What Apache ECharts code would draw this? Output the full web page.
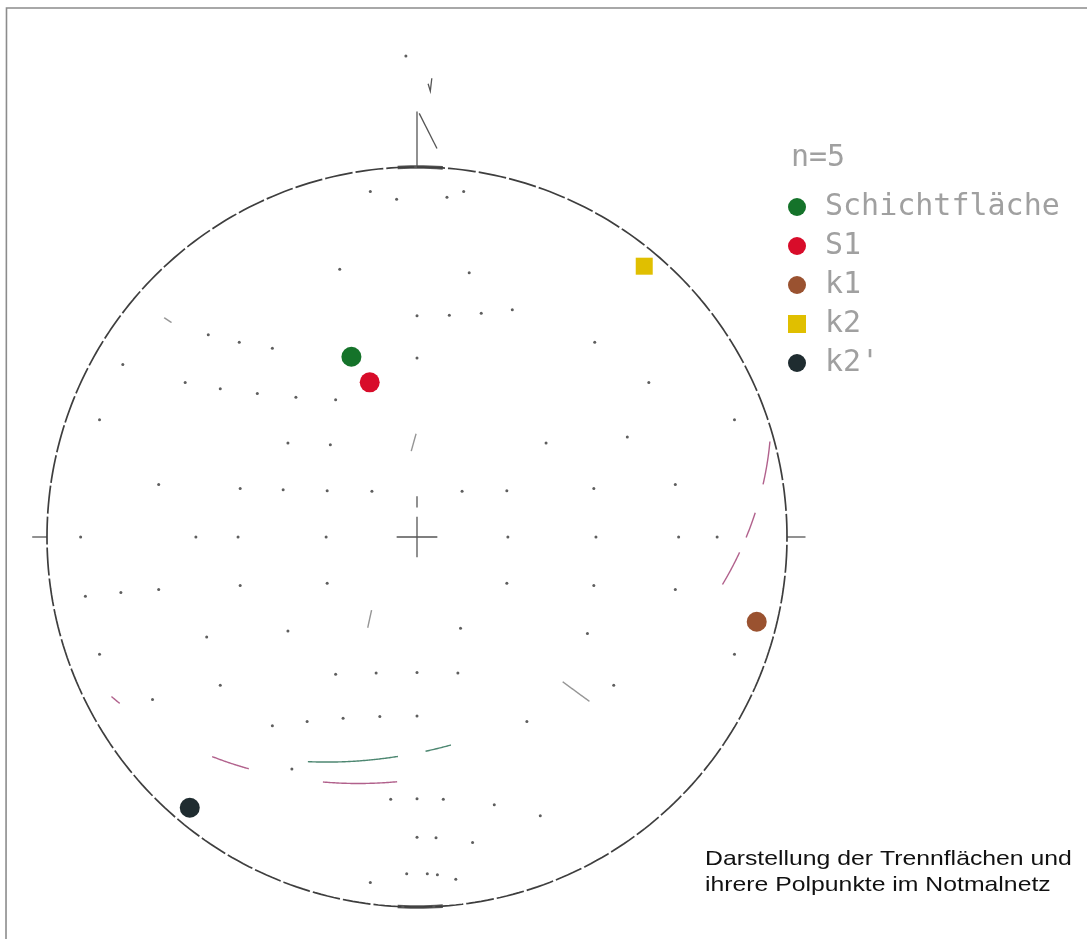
<!DOCTYPE html>
<html>
<head>
<meta charset="utf-8">
<script src="https://cdn.jsdelivr.net/npm/echarts@6/dist/echarts.min.js"></script>
<style>
  html, body { margin: 0; padding: 0; background: #ffffff; }
  #chart { width: 1087px; height: 939px; }
</style>
</head>
<body>
<div id="chart"></div>
<script>
// Poles of the discontinuity planes, lower hemisphere (trend / plunge in degrees)
const poleNames   = ['Schichtfläche', 'S1', 'k1', 'k2', "k2'"];
const poleTrend   = [340, 343, 104, 40, 220];
const polePlunge  = [47, 54, 6, 5, 5];
const poleColors  = ['#15732a', '#d80c2a', '#9a5230', '#e0bf00', '#1f2c30'];
const poleSymbols = ['circle', 'circle', 'circle', 'rect', 'circle'];
const sampleCount = 5;

// Printed stretches of each plane's great circle, as rake ranges (deg from strike)
const traceRakes = [
  [[97.9, 103.2], [108.8, 127.2]],
  [[2.3, 10.3], [15.8, 20.9], [23.9, 30.9], [107.8, 122.5], [137, 144.5], [165, 167]],
  [[68, 72], [108, 112]],
  [[36, 44]],
  [[10.5, 13]]
];
const traceColors = ['#3a7a62', '#a8507f', '#8a8a8a', '#8a8a8a', '#8a8a8a'];

// Printed knots of the Schmidt net (longitude, latitude in degrees, 10 degree grid)
const netKnots = [
  [-50, 80], [-20, 80], [30, 80], [50, 80],
  [-30, 60], [20, 60],
  [0, 50], [10, 50], [20, 50], [30, 50],
  [-60, 40], [-50, 40], [-40, 40], [0, 40], [50, 40],
  [-80, 30], [-60, 30], [-50, 30], [-40, 30], [-30, 30], [-20, 30], [60, 30],
  [-80, 20], [-30, 20], [-20, 20], [30, 20], [50, 20], [80, 20],
  [-60, 10], [-40, 10], [-30, 10], [-20, 10], [-10, 10], [10, 10], [20, 10], [40, 10], [60, 10],
  [-80, 0], [-50, 0], [-40, 0], [-20, 0], [20, 0], [40, 0], [60, 0], [70, 0],
  [-80, -10], [-70, -10], [-60, -10], [-40, -10], [-20, -10], [20, -10], [40, -10], [60, -10],
  [-80, -20], [-50, -20], [-30, -20], [10, -20], [40, -20], [80, -20],
  [-70, -30], [-50, -30], [-20, -30], [-10, -30], [0, -30], [10, -30], [50, -30],
  [-40, -40], [-30, -40], [-20, -40], [-10, -40], [0, -40], [30, -40],
  [-40, -50],
  [-10, -60], [0, -60], [10, -60], [30, -60], [50, -60],
  [0, -70], [10, -70], [30, -70],
  [-50, -80], [-10, -80], [10, -80], [20, -80], [40, -80]
];

const captionLines = ['Darstellung der Trennflächen und', 'ihrere Polpunkte im Notmalnetz'];

// ---- layout of the net on the page ----
const W = 1087, H = 939, CX = 417, CY = 537, R = 370;
const xMin = -CX / R, xMax = (W - CX) / R, yMax = CY / R, yMin = -(H - CY) / R;

const rad = d => d * Math.PI / 180;

// Lambert equal-area projection of a lower-hemisphere unit vector (east, north, down)
function projectVec(e, n, down) {
  const h = Math.hypot(e, n);
  const r = Math.sqrt(Math.max(0, 1 - down));
  return h < 1e-12 ? [0, 0] : [r * e / h, r * n / h];
}
function projectLine(trend, plunge) {
  const t = rad(trend), p = rad(plunge);
  return projectVec(Math.cos(p) * Math.sin(t), Math.cos(p) * Math.cos(t), Math.sin(p));
}
// Point on a plane's great circle at a given rake (0 = strike, 90 = dip line)
function planePoint(dipDir, dip, rake) {
  const a = rad(dipDir), d = rad(dip), t = rad(rake);
  const sE = Math.sin(a - Math.PI / 2), sN = Math.cos(a - Math.PI / 2);
  const dE = Math.cos(d) * Math.sin(a), dN = Math.cos(d) * Math.cos(a), dD = Math.sin(d);
  return projectVec(sE * Math.cos(t) + dE * Math.sin(t),
                    sN * Math.cos(t) + dN * Math.sin(t),
                    dD * Math.sin(t));
}
// Schmidt net knot in the equatorial aspect
function netKnot(lon, lat) {
  const c = Math.cos(rad(lat)) * Math.cos(rad(lon));
  const k = 1 / Math.sqrt(1 + c);
  return [Math.cos(rad(lat)) * Math.sin(rad(lon)) * k, Math.sin(rad(lat)) * k];
}
const arcPoints = (a0, a1) => {
  const pts = [];
  for (let a = a0; a <= a1; a += 1) pts.push([Math.sin(rad(a)), Math.cos(rad(a))]);
  return pts;
};

// primitive circle
const primitive = arcPoints(0, 360);
const netDots = netKnots.map(([lon, lat]) => netKnot(lon, lat));

// great circle fragments of the planes belonging to each pole
const traceData = [];
poleNames.forEach((name, i) => {
  const dipDir = (poleTrend[i] + 180) % 360;
  const dip = 90 - polePlunge[i];
  traceRakes[i].forEach(([r0, r1]) => {
    const coords = [];
    for (let r = r0; r <= r1 + 1e-9; r += 0.25) coords.push(planePoint(dipDir, dip, r));
    traceData.push({ coords, lineStyle: { color: traceColors[i] } });
  });
});

// cardinal ticks, north mark and centre cross
const tick = (ax, ay, r0, r1) => ({ coords: [[ax * r0, ay * r0], [ax * r1, ay * r1]] });
const arm = 0.055;
const markData = [
  tick(1, 0, 1, 1.05),
  tick(-1, 0, 1, 1.04),
  tick(0, 1, 1, 1.15),
  { coords: [[0.006, 1.145], [0.054, 1.05]] },
  { coords: [[0.03, 1.225], [0.036, 1.205], [0.04, 1.24]] },
  { coords: [[-arm, 0], [arm, 0]] },
  { coords: [[0, -arm], [0, arm]] },
  { coords: [[0, 0.08], [0, 0.11]] }
];
// heavier strokes of the circle at north and south
const heavyArcs = [
  { coords: arcPoints(-3, 4) },
  { coords: arcPoints(176, 183) }
];

const series = [
  {
    type: 'line', data: primitive, showSymbol: false, silent: true, z: 2,
    lineStyle: { color: '#3e3e3e', width: 1.7, type: [28, 3] }
  },
  {
    type: 'lines', coordinateSystem: 'cartesian2d', polyline: true, silent: true, z: 2,
    data: heavyArcs, lineStyle: { color: '#3a3a3a', width: 3.6, opacity: 0.85 }
  },
  {
    type: 'lines', coordinateSystem: 'cartesian2d', polyline: true, silent: true, z: 2,
    data: markData, lineStyle: { color: '#555555', width: 1.3, opacity: 1 }
  },
  {
    type: 'lines', coordinateSystem: 'cartesian2d', polyline: true, silent: true, z: 2,
    data: traceData, lineStyle: { width: 1.4, opacity: 0.9 }
  },
  {
    type: 'scatter', data: netDots.concat([[-0.03, 1.3]]), symbolSize: 3, silent: true, z: 1,
    itemStyle: { color: '#5e5e5e', opacity: 1 }
  }
];
poleNames.forEach((name, i) => {
  series.push({
    name, type: 'scatter', z: 5,
    symbol: poleSymbols[i], symbolSize: poleSymbols[i] === 'rect' ? 17 : 20,
    itemStyle: { color: poleColors[i], opacity: 1 },
    data: [projectLine(poleTrend[i], polePlunge[i])]
  });
});

const chart = echarts.init(document.getElementById('chart'), null, { renderer: 'canvas' });
chart.setOption({
  animation: false,
  backgroundColor: '#ffffff',
  title: {
    text: 'n=' + sampleCount, left: 786, top: 138,
    textStyle: { fontFamily: 'DejaVu Sans Mono', fontSize: 30, fontWeight: 'normal', color: '#a0a0a0' }
  },
  legend: {
    orient: 'vertical', left: 788, top: 192, itemWidth: 18, itemHeight: 18, itemGap: 9,
    padding: 0,
    data: poleNames.map((n, i) => ({ name: n, icon: poleSymbols[i] })),
    textStyle: { fontFamily: 'DejaVu Sans Mono', fontSize: 30, color: '#a0a0a0', padding: [0, 0, 0, 14] }
  },
  grid: { left: 0, top: 0, width: W, height: H, containLabel: false },
  xAxis: { type: 'value', min: xMin, max: xMax, show: false },
  yAxis: { type: 'value', min: yMin, max: yMax, show: false },
  graphic: [
    { type: 'polyline', silent: true, shape: { points: [[6, 939], [6.5, 8], [1087, 8]] },
      style: { stroke: '#8c8c8c', lineWidth: 1.6, fill: null } },
    { type: 'text', left: 705, top: 849, silent: true, scaleX: 1.18,
      style: { text: captionLines[0], font: '21px "Liberation Sans", Arial, sans-serif', fill: '#111' } },
    { type: 'text', left: 705, top: 875, silent: true, scaleX: 1.18,
      style: { text: captionLines[1], font: '21px "Liberation Sans", Arial, sans-serif', fill: '#111' } }
  ],
  series
});
</script>
</body>
</html>
